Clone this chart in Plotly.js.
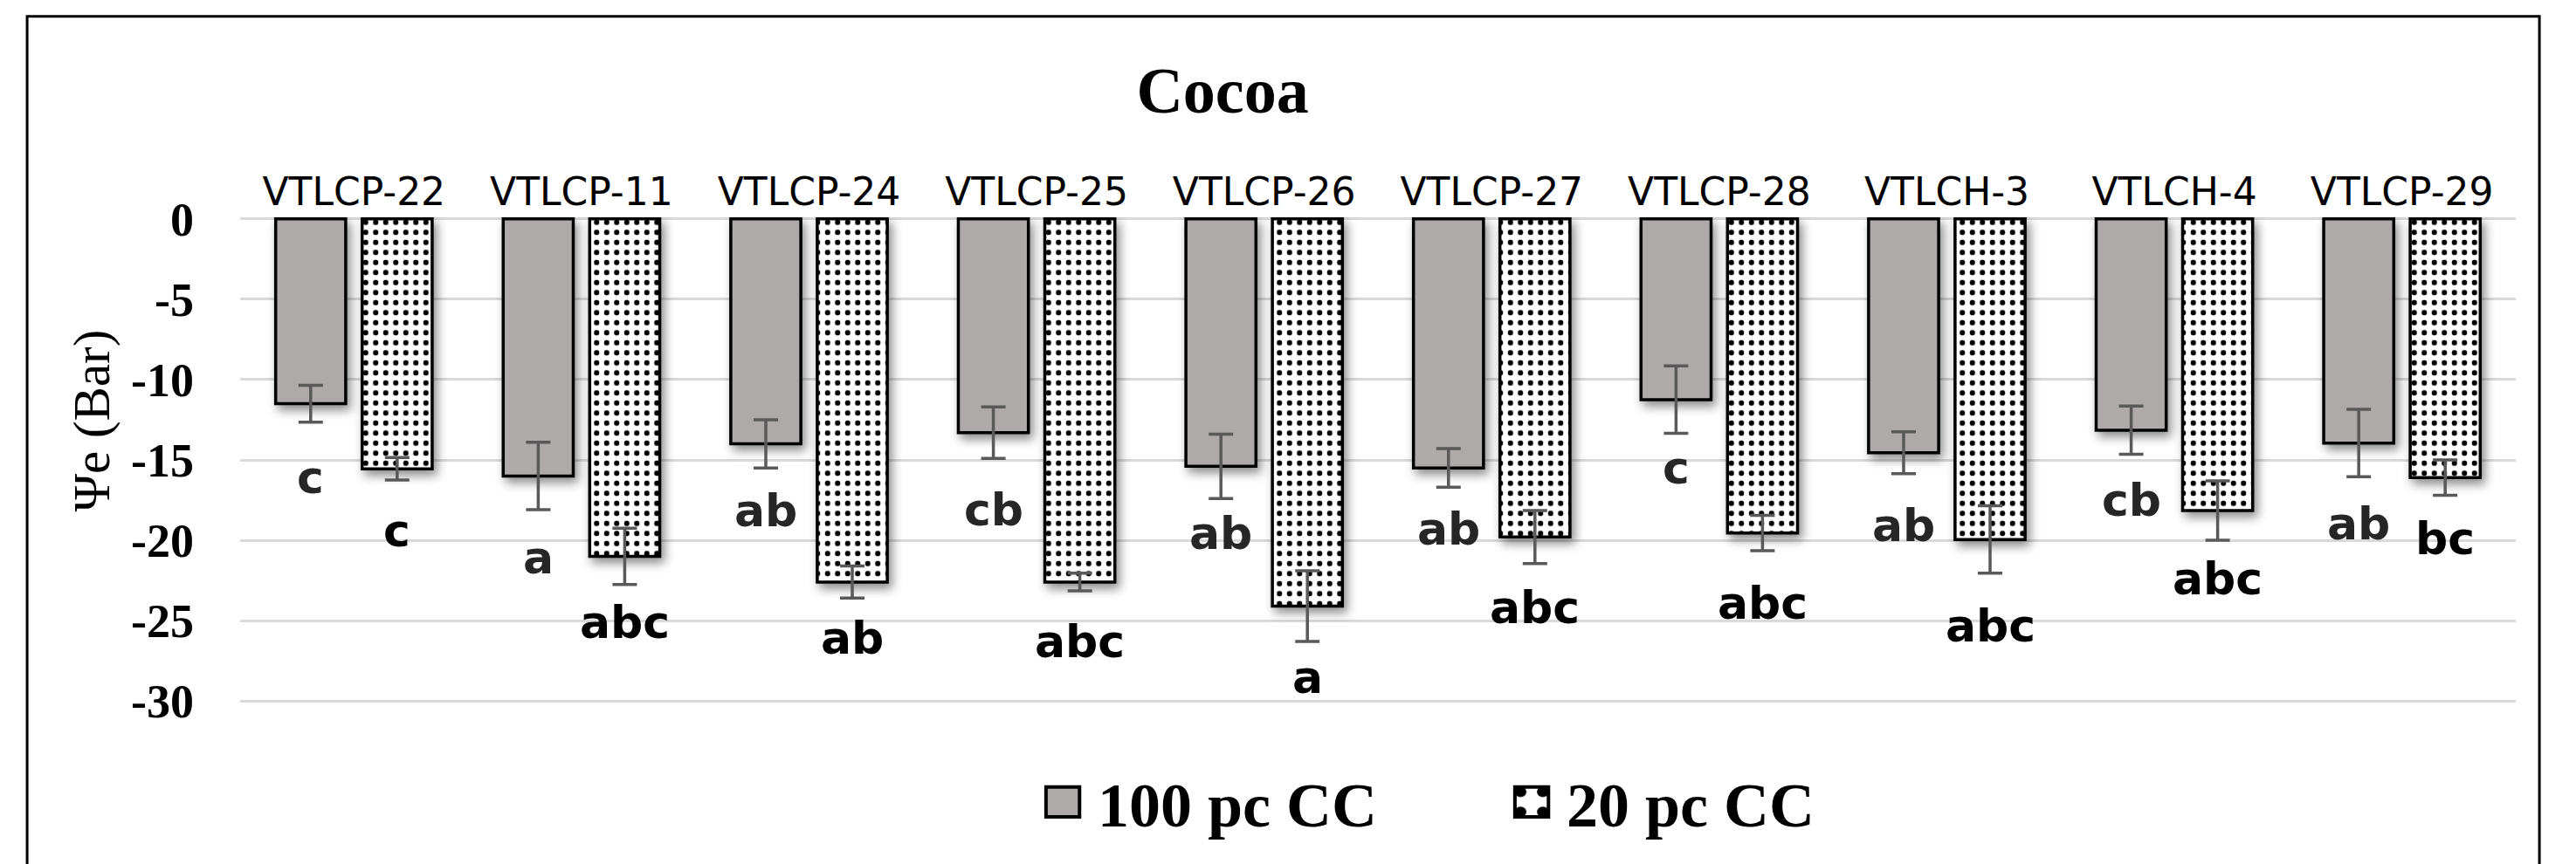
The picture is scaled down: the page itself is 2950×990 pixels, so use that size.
<!DOCTYPE html>
<html>
<head>
<meta charset="utf-8">
<script src="https://cdn.plot.ly/plotly-3.0.1.min.js"></script>
<style>
  html, body { margin: 0; padding: 0; background: #fff; }
  #chart { width: 2950px; height: 990px; }
  .barlayer .point path { filter: drop-shadow(4px 6px 6px rgba(0,0,0,0.45)); }
  .legend .scrollbox { clip-path: none !important; }
  .legend .legendpoints path {
    transform: translate(0px, 0px) scale(3.2, 2.85);
    vector-effect: non-scaling-stroke;
    stroke-width: 4px !important;
  }
</style>
</head>
<body>
<div id="chart"></div>
<script>
// ---- data ----
const categories = ['VTLCP-22','VTLCP-11','VTLCP-24','VTLCP-25','VTLCP-26','VTLCP-27','VTLCP-28','VTLCH-3','VTLCH-4','VTLCP-29'];
const cc100 = [-11.5, -16.0, -14.0, -13.3, -15.4, -15.5, -11.25, -14.55, -13.15, -13.95];
const err100 = [1.15, 2.1, 1.5, 1.6, 2.0, 1.2, 2.1, 1.3, 1.5, 2.1];
const cc20 = [-15.55, -21.0, -22.6, -22.6, -24.1, -19.8, -19.55, -19.95, -18.15, -16.1];
const err20 = [0.7, 1.75, 1.0, 0.55, 2.2, 1.65, 1.1, 2.1, 1.85, 1.1];
const letters100 = ['c','a','ab','cb','ab','ab','c','ab','cb','ab'];
const letters20 = ['c','abc','ab','abc','a','abc','abc','abc','abc','bc'];
const letterY100 = [-16.1, -21.1, -18.15, -18.1, -19.55, -19.3, -15.5, -19.1, -17.5, -18.97];
const letterY20 = [-19.4, -25.1, -26.1, -26.3, -28.5, -24.2, -23.9, -25.3, -22.4, -19.9];
const yTickVals = [0, -5, -10, -15, -20, -25, -30];
const yTickText = ['0', '-5', '-10', '-15', '-20', '-25', '-30'];
const seriesNames = ['100 pc CC', '20 pc CC'];

// ---- style ----
const bargap = 0.24, bargroupgap = 0.19;
const halfOffset = (1 - bargap) / 4;

const traces = [
  {
    type: 'bar', name: seriesNames[0], x: categories, y: cc100,
    marker: { color: '#aeaaaa', line: { color: '#000', width: 3.5 } },
    error_y: { type: 'data', array: err100, visible: true, color: '#595959', thickness: 3.5, width: 14 }
  },
  {
    type: 'bar', name: seriesNames[1], x: categories, y: cc20,
    marker: {
      color: '#ffffff', line: { color: '#000', width: 3.5 },
      pattern: { shape: '.', fgcolor: '#000', bgcolor: '#fff', size: 11.5, solidity: 0.22, fillmode: 'replace' }
    },
    error_y: { type: 'data', array: err20, visible: true, color: '#595959', thickness: 3.5, width: 14 }
  }
];

const annotations = [];
categories.forEach((c, i) => {
  annotations.push({
    x: i - halfOffset, y: letterY100[i], xref: 'x', yref: 'y', text: letters100[i], showarrow: false,
    xanchor: 'center', yanchor: 'middle',
    font: { family: 'DejaVu Sans', size: 52, color: '#262626', weight: 'bold' }
  });
  annotations.push({
    x: i + halfOffset, y: letterY20[i], xref: 'x', yref: 'y', text: letters20[i], showarrow: false,
    xanchor: 'center', yanchor: 'middle',
    font: { family: 'DejaVu Sans', size: 52, color: '#000', weight: 'bold' }
  });
});
annotations.push({
  x: -0.0656, y: 0.58, xref: 'paper', yref: 'paper', text: 'Ψe (Bar)', textangle: -90,
  showarrow: false, xanchor: 'center', yanchor: 'middle',
  font: { family: 'Liberation Serif', size: 59, color: '#000' }
});

const layout = {
  width: 2950, height: 990,
  margin: { l: 275, r: 69, t: 249.16, b: 185.16, pad: 0 },
  paper_bgcolor: '#fff', plot_bgcolor: '#fff',
  barmode: 'group', bargap: bargap, bargroupgap: bargroupgap,
  showlegend: true,
  title: {
    text: 'Cocoa', xref: 'container', yref: 'container', x: 0.4746, y: 0.896,
    xanchor: 'center', yanchor: 'middle',
    font: { family: 'Liberation Serif', size: 74, color: '#000', weight: 'bold' }
  },
  xaxis: {
    type: 'category', side: 'top', showgrid: false, zeroline: false, showline: false, ticks: '',
    tickfont: { family: 'DejaVu Sans', size: 44, color: '#000' }, ticklabelstandoff: 4,
    range: [-0.5, categories.length - 0.5]
  },
  yaxis: {
    range: [-30.1, 0.1], tickmode: 'array', tickvals: yTickVals, ticktext: yTickText,
    showgrid: true, gridcolor: '#d9d9d9', gridwidth: 3, zeroline: false, showline: false, ticks: '',
    tickfont: { family: 'Liberation Serif', size: 54, color: '#000', weight: 'bold' },
    ticklabelstandoff: 52
  },
  legend: {
    orientation: 'h', x: 0.3615, xanchor: 'left', y: -0.205, yanchor: 'middle',
    font: { family: 'Liberation Serif', size: 72, color: '#000', weight: 'bold' },
    entrywidth: 492, entrywidthmode: 'pixels', bgcolor: 'rgba(0,0,0,0)', borderwidth: 0
  },
  annotations: annotations,
  shapes: [{
    type: 'rect', xref: 'paper', yref: 'paper',
    x0: -0.0936, x1: 1.0104, y0: -0.36, y1: 1.4143,
    line: { color: '#000', width: 3 }, fillcolor: 'rgba(0,0,0,0)', layer: 'below'
  }]
};

Plotly.newPlot('chart', traces, layout, { displayModeBar: false, staticPlot: true });
</script>
</body>
</html>
